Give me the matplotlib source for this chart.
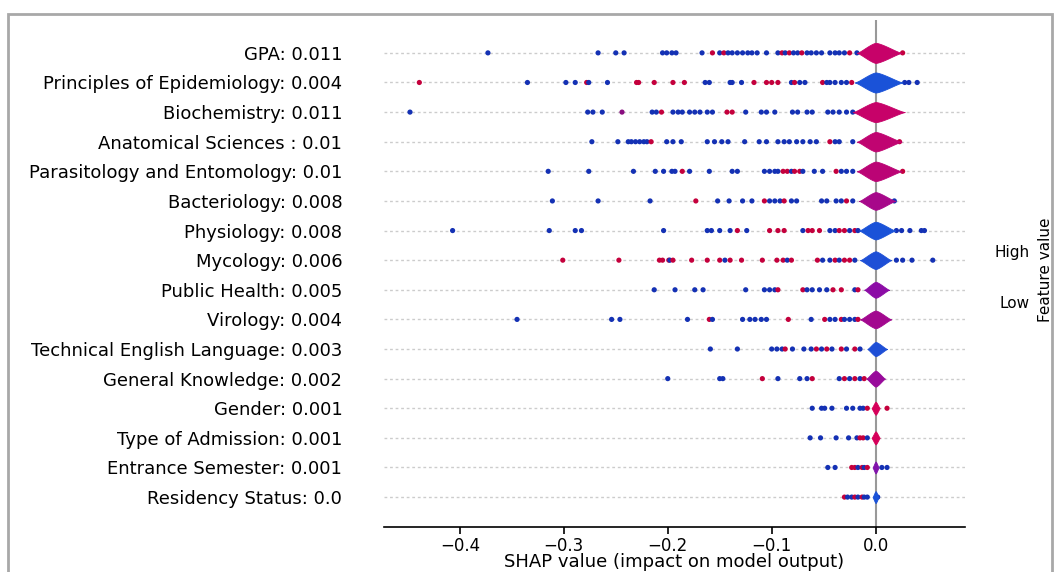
import numpy as np
import matplotlib.pyplot as plt
from matplotlib.colors import LinearSegmentedColormap
from matplotlib.patches import Rectangle

features = ["GPA: 0.011", "Principles of Epidemiology: 0.004", "Biochemistry: 0.011",
            "Anatomical Sciences : 0.01", "Parasitology and Entomology: 0.01",
            "Bacteriology: 0.008", "Physiology: 0.008", "Mycology: 0.006",
            "Public Health: 0.005", "Virology: 0.004", "Technical English Language: 0.003",
            "General Knowledge: 0.002", "Gender: 0.001", "Type of Admission: 0.001",
            "Entrance Semester: 0.001", "Residency Status: 0.0"]

# shap values of the visible points per feature, and feature value (0 low .. 1 high)
gpa_shap = [-0.373, -0.267, -0.250, -0.242, -0.205, -0.201, -0.196, -0.192, -0.167, -0.157,
            -0.150, -0.146, -0.142, -0.138, -0.133, -0.128, -0.123, -0.119, -0.114, -0.105,
            -0.094, -0.090, -0.087, -0.083, -0.079, -0.075, -0.071, -0.066, -0.062, -0.057,
            -0.052, -0.044, -0.039, -0.035, -0.030, -0.025, -0.018, 0.026]
gpa_val = [0, 0, 0, 0, 0, 0, 0, 0, 0, 1, 0, 1, 0, 0, 0, 0, 0, 0, 0, 0,
           0, 1, 0, 1, 0, 0, 1, 0, 0, 0, 0, 0, 0, 0, 0, 1, 0, 1]
epi_shap = [-0.439, -0.335, -0.298, -0.289, -0.278, -0.276, -0.258, -0.230, -0.228, -0.213,
            -0.195, -0.184, -0.164, -0.160, -0.140, -0.138, -0.129, -0.117, -0.105, -0.100,
            -0.094, -0.081, -0.078, -0.073, -0.068, -0.051, -0.047, -0.044, -0.039, -0.033,
            -0.028, -0.023, 0.028, 0.032, 0.040]
epi_val = [1, 0, 0, 0, 1, 0, 0, 1, 1, 1, 1, 1, 0, 0, 0, 0, 0, 1, 1, 1,
           1, 0, 1, 0, 0, 1, 0, 0, 0, 0, 0, 1, 0, 0, 0]
bio_shap = [-0.448, -0.277, -0.272, -0.263, -0.244, -0.215, -0.211, -0.206, -0.195, -0.190,
            -0.186, -0.179, -0.174, -0.169, -0.162, -0.157, -0.143, -0.138, -0.125, -0.110,
            -0.105, -0.097, -0.080, -0.075, -0.066, -0.061, -0.046, -0.041, -0.035, -0.028,
            -0.022]
bio_val = [0, 0, 0, 0, 0.6, 0, 0, 1, 0, 0, 0, 0, 0, 0, 0, 0, 1, 1, 0, 0,
           0, 0, 0, 0, 0, 0, 0, 0, 0, 0, 0]
ana_shap = [-0.273, -0.248, -0.238, -0.235, -0.231, -0.227, -0.223, -0.220, -0.216, -0.201,
            -0.195, -0.187, -0.162, -0.155, -0.148, -0.142, -0.126, -0.112, -0.105, -0.094,
            -0.088, -0.083, -0.076, -0.070, -0.063, -0.057, -0.044, -0.039, -0.035, -0.022,
            0.023]
ana_val = [0, 0, 0, 0, 0, 0, 0, 0, 1, 0, 0, 0, 0, 0, 0, 0, 0, 0, 0, 0,
           0, 0, 0, 0, 0, 0, 1, 0, 0, 0, 1]
par_shap = [-0.315, -0.276, -0.233, -0.212, -0.204, -0.196, -0.193, -0.186, -0.179, -0.160,
            -0.138, -0.133, -0.107, -0.102, -0.097, -0.094, -0.089, -0.085, -0.081, -0.078,
            -0.073, -0.070, -0.059, -0.051, -0.038, -0.033, -0.028, -0.022, 0.026]
par_val = [0, 0, 0, 0, 0, 0, 0, 1, 0, 0, 0, 0, 0, 0, 0, 0, 1, 1, 0, 1,
           1, 0, 0, 0, 1, 0, 0, 0, 1]
bac_shap = [-0.311, -0.267, -0.217, -0.173, -0.152, -0.141, -0.128, -0.119, -0.107, -0.102,
            -0.097, -0.092, -0.088, -0.081, -0.076, -0.052, -0.047, -0.038, -0.033, -0.028,
            -0.022, 0.018]
bac_val = [0, 0, 0, 1, 0, 0, 0, 0, 1, 0, 0, 0, 1, 0, 0, 0, 0, 0, 0, 1, 0, 0]
phy_shap = [-0.407, -0.314, -0.289, -0.283, -0.204, -0.162, -0.158, -0.150, -0.140, -0.133,
            -0.124, -0.102, -0.094, -0.088, -0.070, -0.065, -0.061, -0.054, -0.044, -0.039,
            -0.035, -0.030, -0.025, -0.020, -0.017, 0.020, 0.025, 0.033, 0.044, 0.047]
phy_val = [0, 0, 0, 0, 0, 0, 0, 0, 0, 1, 0, 1, 1, 1, 0, 1, 1, 1, 0, 0,
           1, 1, 0, 1, 0, 0, 0, 0, 0, 0]
myc_shap = [-0.301, -0.247, -0.208, -0.205, -0.199, -0.198, -0.195, -0.177, -0.162, -0.150,
            -0.145, -0.140, -0.129, -0.109, -0.095, -0.089, -0.085, -0.081, -0.056, -0.051,
            -0.044, -0.039, -0.035, -0.030, -0.025, -0.020, 0.020, 0.026, 0.035, 0.055]
myc_val = [1, 1, 1, 1, 1, 0, 1, 1, 1, 1, 0, 1, 1, 1, 1, 1, 0, 1, 1, 0,
           0, 1, 0, 1, 1, 0, 0, 0, 0, 0]
pub_shap = [-0.213, -0.193, -0.174, -0.166, -0.125, -0.107, -0.102, -0.097, -0.094, -0.070,
            -0.066, -0.061, -0.054, -0.047, -0.041, -0.033, -0.020, -0.017]
pub_val = [0, 0, 0, 0, 0, 0, 0, 0, 1, 1, 0, 0, 0, 0, 1, 1, 0, 1]
vir_shap = [-0.345, -0.254, -0.246, -0.181, -0.160, -0.157, -0.128, -0.121, -0.116, -0.110,
            -0.105, -0.084, -0.062, -0.049, -0.044, -0.039, -0.033, -0.030, -0.025, -0.020,
            -0.017]
vir_val = [0, 0, 0, 0, 1, 0, 0, 0, 0, 0, 0, 1, 0, 1, 0, 0, 1, 0, 0, 0, 1]
eng_shap = [-0.159, -0.133, -0.100, -0.095, -0.090, -0.087, -0.080, -0.069, -0.062, -0.057,
            -0.052, -0.047, -0.042, -0.033, -0.028, -0.020, -0.015]
eng_val = [0, 0, 0, 0, 0, 1, 0, 0, 0, 1, 0, 1, 0, 1, 0, 1, 0]
gen_shap = [-0.200, -0.150, -0.147, -0.109, -0.094, -0.073, -0.066, -0.061, -0.035, -0.030,
            -0.025, -0.020, -0.015, -0.011]
gen_val = [0, 0, 0, 1, 0, 0, 0, 1, 0, 1, 0, 1, 0, 1]
gnd_shap = [-0.061, -0.052, -0.049, -0.042, -0.028, -0.022, -0.015, -0.012, -0.008, 0.011]
gnd_val = [0, 0, 0, 0, 0, 0, 0, 0, 1, 1]
adm_shap = [-0.063, -0.053, -0.038, -0.026, -0.018, -0.015, -0.012, -0.008]
adm_val = [0, 0, 0, 0, 0, 1, 1, 0]
ent_shap = [-0.046, -0.039, -0.023, -0.020, -0.017, -0.013, -0.011, -0.008, 0.006, 0.011]
ent_val = [0, 0, 1, 1, 0, 1, 0, 1, 0, 0]
res_shap = [-0.030, -0.027, -0.023, -0.020, -0.017, -0.013, -0.011, -0.008, 0.002]
res_val = [1, 0, 0, 1, 0, 1, 0, 0, 0]

# dense part around zero (violin): range, relative density height, mean feature value
violin_lo = [-0.018, -0.020, -0.022, -0.018, -0.018, -0.016, -0.016, -0.015,
             -0.011, -0.015, -0.008, -0.009, -0.004, -0.004, -0.003, -0.003]
violin_hi = [0.025, 0.026, 0.028, 0.025, 0.025, 0.019, 0.019, 0.015,
             0.013, 0.015, 0.011, 0.009, 0.004, 0.004, 0.003, 0.003]
violin_h = [0.34, 0.34, 0.34, 0.33, 0.33, 0.30, 0.30, 0.30,
            0.27, 0.30, 0.24, 0.27, 0.22, 0.22, 0.20, 0.20]
violin_val = [0.9, 0.0, 0.9, 0.85, 0.82, 0.68, 0.0, 0.02,
              0.5, 0.65, 0.02, 0.58, 1.0, 1.0, 0.45, 0.0]

all_shap = [gpa_shap, epi_shap, bio_shap, ana_shap, par_shap, bac_shap, phy_shap, myc_shap,
            pub_shap, vir_shap, eng_shap, gen_shap, gnd_shap, adm_shap, ent_shap, res_shap]
all_val = [gpa_val, epi_val, bio_val, ana_val, par_val, bac_val, phy_val, myc_val,
           pub_val, vir_val, eng_val, gen_val, gnd_val, adm_val, ent_val, res_val]

dot_cmap = LinearSegmentedColormap.from_list("dots", ["#1431b4", "#7a1090", "#c4003c"])
vio_cmap = LinearSegmentedColormap.from_list("vio", ["#1a52d8", "#8c0ca6", "#d6005a"])

fig = plt.figure(figsize=(10.57, 5.72), dpi=100)
ax = fig.add_axes([384 / 1057, 45 / 572, 581 / 1057, 507 / 572])

n = len(features)
ypos = np.arange(n)[::-1]

ax.axvline(0, color="#999999", lw=1.5, zorder=0)
for i in range(n):
    y = ypos[i]
    ax.axhline(y, color="#cccccc", lw=1, ls=(0, (2, 2)), zorder=0)
    ax.scatter(all_shap[i], np.full(len(all_shap[i]), y), c=all_val[i], cmap=dot_cmap,
               vmin=0, vmax=1, s=14, linewidths=0, zorder=3)
    lo, hi, h = violin_lo[i], violin_hi[i], violin_h[i]
    xs = np.linspace(lo, hi, 200)
    t = np.where(xs < 0, xs / -lo, xs / hi)
    prof = h * (1 - np.abs(t) ** 1.4) ** 1.3
    col = vio_cmap(violin_val[i])
    ax.fill_between(xs, y - prof, y + prof, color=col, lw=0.6, edgecolor=col, zorder=4)

ax.set_xlim(-0.473, 0.086)
ax.set_ylim(-1.01, n + 0.11)
ax.set_yticks(ypos)
ax.set_yticklabels(features, fontsize=13)
ax.tick_params(axis="y", length=0, pad=30)
ax.set_xticks([-0.4, -0.3, -0.2, -0.1, 0.0])
ax.tick_params(axis="x", labelsize=12, length=5, width=1.2, pad=2)
ax.set_xlabel("SHAP value (impact on model output)", fontsize=13, va="center")
ax.xaxis.set_label_coords(0.5, -(562 - 527) / 507)
for s in ["top", "right", "left"]:
    ax.spines[s].set_visible(False)
ax.spines["bottom"].set_linewidth(1.2)

fig.text(1030 / 1057, 1 - 252 / 572, "High", ha="right", va="center", fontsize=11)
fig.text(1030 / 1057, 1 - 303 / 572, "Low", ha="right", va="center", fontsize=11)
fig.text(1045 / 1057, 1 - 270 / 572, "Feature value", rotation=90, ha="center",
         va="center", fontsize=11)

fig.patches.append(Rectangle((8 / 1057, -0.05), 1044 / 1057, 1.05 - 14 / 572,
                             transform=fig.transFigure, fill=False, ec="#a8a8a8", lw=2))

fig.savefig("out.png", dpi=100)
